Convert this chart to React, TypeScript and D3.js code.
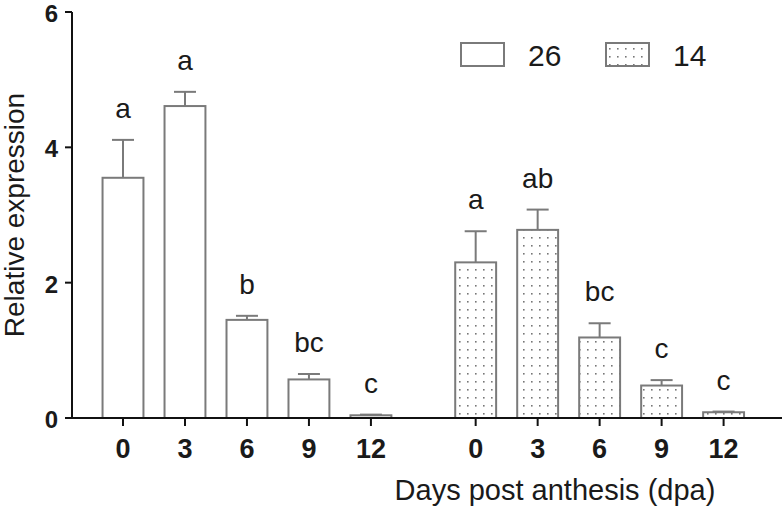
import React from "react";
import * as d3 from "d3";

const days = ["0", "3", "6", "9", "12"];
const seriesNames = ["26", "14"];
const means26 = [3.55, 4.61, 1.45, 0.57, 0.04];
const errs26 = [0.56, 0.21, 0.06, 0.08, 0.01];
const means14 = [2.3, 2.78, 1.19, 0.48, 0.085];
const errs14 = [0.46, 0.3, 0.21, 0.08, 0.01];
const letters26 = ["a", "a", "b", "bc", "c"];
const letters14 = ["a", "ab", "bc", "c", "c"];
const yTicks = [0, 2, 4, 6];

const W = 782;
const H = 509;
const GROUP_GAP = 0.69;

export default function App() {
  const y = d3.scaleLinear().domain([0, 6]).range([418, 12]);
  const x = d3.scaleLinear().domain([0, 5 + GROUP_GAP + 4]).range([123, 723.6]);
  const slot = x(1) - x(0);
  const bw = slot * 0.66;
  const groups = [
    { name: seriesNames[0], means: means26, errs: errs26, letters: letters26, fill: "#fff" },
    { name: seriesNames[1], means: means14, errs: errs14, letters: letters14, fill: "url(#dots)" },
  ];
  const stroke = "#7a7a7a";
  const txt = "#1a1a1a";
  const font = "Liberation Sans, Arial, sans-serif";
  return (
    <svg width={W} height={H} style={{ position: "absolute", left: 0, top: 0 }} fontFamily={font}>
      <defs>
        <pattern id="dots" width={8} height={8} patternUnits="userSpaceOnUse" x={0} y={2}>
          <rect width={8} height={8} fill="#fff" />
          <rect x={3} y={3} width={1.6} height={1.6} fill="#777" />
        </pattern>
      </defs>
      {groups.map((g, gi) =>
        days.map((d, i) => {
          const cx = x(gi * (5 + GROUP_GAP) + i);
          const top = y(g.means[i]);
          const cap = y(g.means[i] + g.errs[i]);
          return (
            <g key={`${gi}-${i}`}>
              <line x1={cx} x2={cx} y1={top} y2={cap} stroke={stroke} strokeWidth={2} />
              <line x1={cx - 11} x2={cx + 11} y1={cap} y2={cap} stroke={stroke} strokeWidth={2} />
              <rect x={cx - bw / 2} y={top} width={bw} height={y(0) - top} fill={g.fill} stroke={stroke} strokeWidth={2} />
              <text x={cx} y={cap - 22} textAnchor="middle" fontSize={28} fill={txt}>
                {g.letters[i]}
              </text>
              <line x1={cx} x2={cx} y1={y(0)} y2={y(0) + 8} stroke="#111" strokeWidth={2} />
              <text x={cx} y={458} textAnchor="middle" fontSize={27} fontWeight="bold" fill={txt}>
                {d}
              </text>
            </g>
          );
        })
      )}
      {/* axes */}
      <line x1={72} x2={72} y1={y(6)} y2={y(0) + 1} stroke="#111" strokeWidth={2} />
      <line x1={71} x2={W} y1={y(0)} y2={y(0)} stroke="#111" strokeWidth={2} />
      {yTicks.map((t) => (
        <g key={t}>
          <line x1={65} x2={72} y1={y(t)} y2={y(t)} stroke="#111" strokeWidth={2} />
          <text x={58} y={y(t) + 10} textAnchor="end" fontSize={24} fontWeight="bold" fill={txt}>
            {t}
          </text>
        </g>
      ))}
      <text transform={`translate(24,${y(3)}) rotate(-90)`} textAnchor="middle" fontSize={28} fill={txt}>
        Relative expression
      </text>
      <text x={555} y={500} textAnchor="middle" fontSize={29} fill={txt}>
        Days post anthesis (dpa)
      </text>
      {/* legend */}
      {groups.map((g, gi) => (
        <g key={g.name} transform={`translate(${461 + gi * 145},43)`}>
          <rect x={0} y={0} width={43} height={23} fill={g.fill} stroke={stroke} strokeWidth={2} />
          <text x={67} y={23} fontSize={30} fill={txt}>
            {g.name}
          </text>
        </g>
      ))}
    </svg>
  );
}
